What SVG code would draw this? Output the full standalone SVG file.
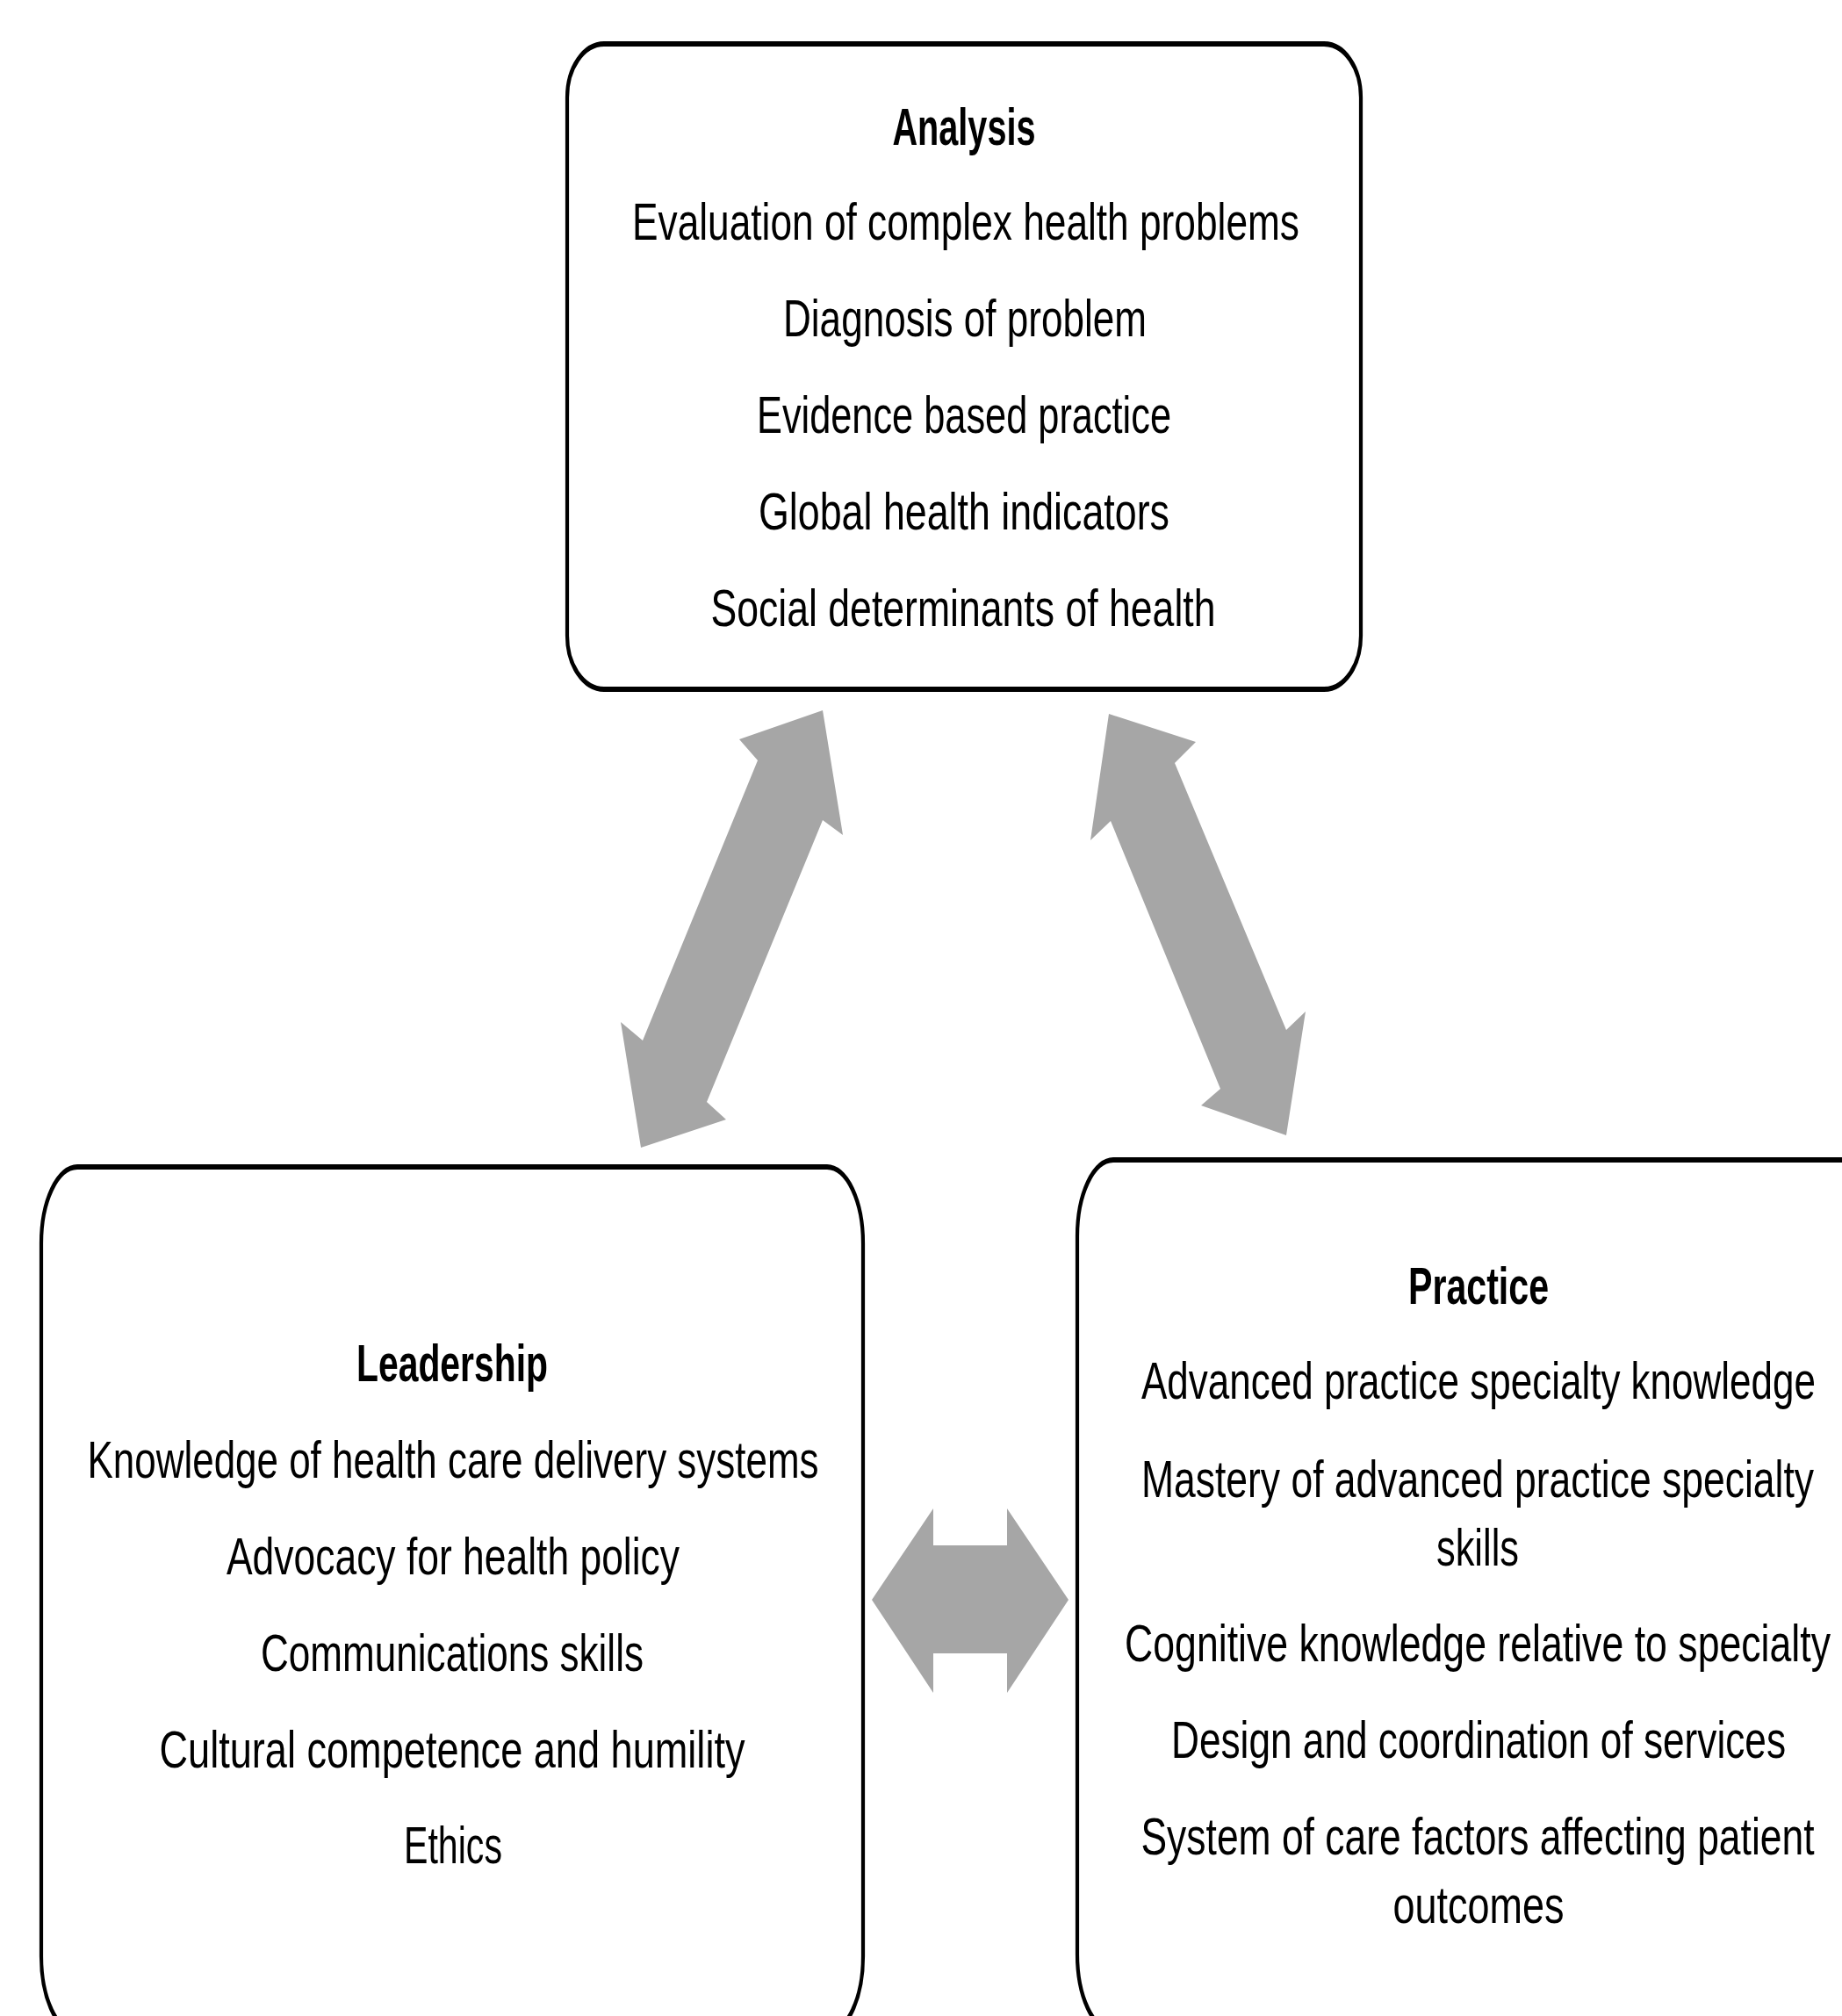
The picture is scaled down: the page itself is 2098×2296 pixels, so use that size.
<svg xmlns="http://www.w3.org/2000/svg" width="2098" height="2296" viewBox="0 0 2098 2296">
<style>
.box{fill:#ffffff;stroke:#000000;stroke-width:4.2}
.arrow{fill:#a6a6a6;stroke:none}
text{font-family:"Liberation Sans",Arial,sans-serif;font-size:44px;fill:#000000;text-anchor:middle}
.title{font-weight:bold}
</style>
<rect x="0" y="0" width="2098" height="2296" fill="#ffffff"/>
<g id="connectors">
<polygon class="arrow" points="937,809 960,951 937,934 805,1255 827,1275 730,1307 707,1164 732,1185 863,866 842,842"/>
<polygon class="arrow" points="1263,813 1362,845 1338,869 1465,1173 1487,1152 1465,1293 1368,1259 1390,1240 1265,935 1242,957"/>
<polygon class="arrow" points="993,1822 1063,1718 1063,1760 1147,1760 1147,1718 1217,1822 1147,1928 1147,1883 1063,1883 1063,1928"/>
</g>
<g id="analysis">
<rect class="box" x="646" y="34.48" width="904" height="506.9" rx="42" ry="42" transform="scale(1,1.45)"/>
<g transform="scale(1,1.36)">
<text class="title" x="1098" y="121.32" textLength="163" lengthAdjust="spacingAndGlyphs">Analysis</text>
<text x="1100" y="200.74" textLength="760" lengthAdjust="spacingAndGlyphs">Evaluation of complex health problems</text>
<text x="1099" y="281.62" textLength="414" lengthAdjust="spacingAndGlyphs">Diagnosis of problem</text>
<text x="1098" y="362.50" textLength="472" lengthAdjust="spacingAndGlyphs">Evidence based practice</text>
<text x="1098" y="443.38" textLength="468" lengthAdjust="spacingAndGlyphs">Global health indicators</text>
<text x="1097" y="524.26" textLength="575" lengthAdjust="spacingAndGlyphs">Social determinants of health</text>
</g>
</g>
<g id="leadership">
<rect class="box" x="47" y="916.55" width="936" height="680" rx="41" ry="60" transform="scale(1,1.45)"/>
<g transform="scale(1,1.36)">
<text class="title" x="515" y="1156.62" textLength="218" lengthAdjust="spacingAndGlyphs">Leadership</text>
<text x="516" y="1237.50" textLength="833" lengthAdjust="spacingAndGlyphs">Knowledge of health care delivery systems</text>
<text x="516" y="1318.38" textLength="516" lengthAdjust="spacingAndGlyphs">Advocacy for health policy</text>
<text x="515" y="1399.26" textLength="436" lengthAdjust="spacingAndGlyphs">Communications skills</text>
<text x="515" y="1480.15" textLength="667" lengthAdjust="spacingAndGlyphs">Cultural competence and humility</text>
<text x="516" y="1560.29" textLength="112" lengthAdjust="spacingAndGlyphs">Ethics</text>
</g>
</g>
<g id="practice">
<rect class="box" x="1227" y="911.03" width="916" height="684" rx="41" ry="60" transform="scale(1,1.45)"/>
<g transform="scale(1,1.36)">
<text class="title" x="1684" y="1091.91" textLength="160" lengthAdjust="spacingAndGlyphs">Practice</text>
<text x="1684" y="1171.32" textLength="768" lengthAdjust="spacingAndGlyphs">Advanced practice specialty knowledge</text>
<text x="1683" y="1253.68" textLength="766" lengthAdjust="spacingAndGlyphs">Mastery of advanced practice specialty</text>
<text x="1683" y="1311.03" textLength="94" lengthAdjust="spacingAndGlyphs">skills</text>
<text x="1683" y="1391.18" textLength="804" lengthAdjust="spacingAndGlyphs">Cognitive knowledge relative to specialty</text>
<text x="1684" y="1472.06" textLength="700" lengthAdjust="spacingAndGlyphs">Design and coordination of services</text>
<text x="1683" y="1552.94" textLength="767" lengthAdjust="spacingAndGlyphs">System of care factors affecting patient</text>
<text x="1684" y="1610.29" textLength="195" lengthAdjust="spacingAndGlyphs">outcomes</text>
</g>
</g>
</svg>
